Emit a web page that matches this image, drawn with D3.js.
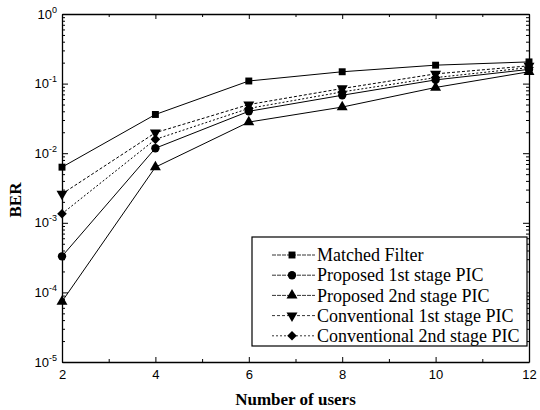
<!DOCTYPE html>
<html>
<head>
<meta charset="utf-8">
<script src="https://cdn.jsdelivr.net/npm/d3@7"></script>
<style>
  body { margin: 0; background: #fff; }
  svg { display: block; }
</style>
</head>
<body>
<div id="chart"></div>
<script>
// data
const users = [2, 4, 6, 8, 10, 12]
const matchedFilter = [6.3e-3, 0.036, 0.109, 0.148, 0.184, 0.205]
const proposed1 = [3.3e-4, 0.0118, 0.040, 0.068, 0.113, 0.16]
const proposed2 = [7.4e-5, 0.0063, 0.028, 0.046, 0.088, 0.148]
const conventional1 = [2.6e-3, 0.0197, 0.050, 0.085, 0.138, 0.18]
const conventional2 = [1.35e-3, 0.0158, 0.044, 0.076, 0.122, 0.17]

const seriesNames = ['Matched Filter', 'Proposed 1st stage PIC', 'Proposed 2nd stage PIC',
  'Conventional 1st stage PIC', 'Conventional 2nd stage PIC']
const xTicks = [2, 4, 6, 8, 10, 12]
const yTicks = [1e-5, 1e-4, 1e-3, 1e-2, 1e-1, 1]

const series = [
  { name: seriesNames[0], values: matchedFilter, marker: 'square', dash: null },
  { name: seriesNames[1], values: proposed1, marker: 'circle', dash: null },
  { name: seriesNames[2], values: proposed2, marker: 'up', dash: null },
  { name: seriesNames[3], values: conventional1, marker: 'down', dash: '3,2' },
  { name: seriesNames[4], values: conventional2, marker: 'diamond', dash: '2,2' }
]

const W = 540
const H = 410
const margin = { top: 14, right: 11, bottom: 48, left: 62 }
const width = W - margin.left - margin.right
const height = H - margin.top - margin.bottom

const serif = '"Liberation Serif", "Times New Roman", serif'
const sans = '"Liberation Sans", Arial, sans-serif'

const svg = d3.select('#chart').append('svg')
  .attr('width', W)
  .attr('height', H)

const g = svg.append('g')
  .attr('transform', `translate(${margin.left},${margin.top})`)

const x = d3.scaleLinear().domain([2, 12]).range([0, width])
const y = d3.scaleLog().domain([1e-5, 1]).range([height, 0])

// minor tick values
let yMinor = []
for (let e = -5; e < 0; e++) {
  for (let k = 2; k <= 9; k++) yMinor.push(k * Math.pow(10, e))
}
const xMinor = [3, 5, 7, 9, 11]

function styleAxis (sel) {
  sel.select('.domain').attr('stroke', '#000').attr('stroke-width', 1.3)
  sel.selectAll('.tick line').attr('stroke', '#000').attr('stroke-width', 1)
}

// y axes (left, right)
g.append('g').call(d3.axisLeft(y).tickValues(yMinor).tickSize(-3).tickFormat(''))
  .call(styleAxis).select('.domain').remove()
g.append('g')
  .call(d3.axisLeft(y).tickValues(yTicks).tickSize(-6).tickSizeOuter(0).tickPadding(6))
  .call(styleAxis)
  .call((a) => {
    a.selectAll('text').each(function (d) {
      let t = d3.select(this)
      let e = Math.round(Math.log10(d))
      t.text('10')
        .attr('font-family', sans)
        .attr('font-size', 13)
        .attr('fill', '#000')
        .attr('x', -5)
      t.append('tspan')
        .attr('dy', -6)
        .attr('font-size', 9)
        .text(e === 0 ? '0' : '-' + Math.abs(e))
    })
  })

g.append('g').attr('transform', `translate(${width},0)`)
  .call(d3.axisRight(y).tickValues(yMinor).tickSize(-3).tickFormat(''))
  .call(styleAxis).select('.domain').remove()
g.append('g').attr('transform', `translate(${width},0)`)
  .call(d3.axisRight(y).tickValues(yTicks).tickSize(-6).tickSizeOuter(0).tickFormat(''))
  .call(styleAxis)

// x axes (bottom, top)
g.append('g').attr('transform', `translate(0,${height})`)
  .call(d3.axisBottom(x).tickValues(xMinor).tickSize(-3).tickFormat(''))
  .call(styleAxis).select('.domain').remove()
g.append('g').attr('transform', `translate(0,${height})`)
  .call(d3.axisBottom(x).tickValues(xTicks).tickSize(-5).tickSizeOuter(0).tickPadding(8))
  .call(styleAxis)
  .call((a) => a.selectAll('text')
    .attr('font-family', sans)
    .attr('font-size', 13)
    .attr('fill', '#000'))

g.append('g')
  .call(d3.axisTop(x).tickValues(xMinor).tickSize(-3).tickFormat(''))
  .call(styleAxis).select('.domain').remove()
g.append('g')
  .call(d3.axisTop(x).tickValues(xTicks).tickSize(-5).tickSizeOuter(0).tickFormat(''))
  .call(styleAxis)

// markers
function markerPath (type) {
  if (type === 'square') return d3.symbol(d3.symbolSquare, 48)()
  if (type === 'circle') return d3.symbol(d3.symbolCircle, 55)()
  if (type === 'diamond') return d3.symbol(d3.symbolSquare, 46)()
  return d3.symbol(d3.symbolTriangle, 52)()
}
function markerRotate (type) {
  if (type === 'down') return 180
  if (type === 'diamond') return 45
  return 0
}

const line = d3.line()
  .x((d, i) => x(users[i]))
  .y((d) => y(d))

const plot = g.append('g').classed('series', true)

series.forEach((s) => {
  plot.append('path')
    .datum(s.values)
    .attr('d', line)
    .attr('fill', 'none')
    .attr('stroke', '#000')
    .attr('stroke-width', 1)
    .attr('stroke-dasharray', s.dash)

  plot.selectAll(null)
    .data(s.values)
    .enter()
    .append('path')
    .attr('d', markerPath(s.marker))
    .attr('transform', (d, i) => `translate(${x(users[i])},${y(d)}) rotate(${markerRotate(s.marker)})`)
    .attr('fill', '#000')
})

// legend
const legX = 252 - margin.left
const legY = 237 - margin.top
const legend = g.append('g').attr('transform', `translate(${legX},${legY})`)
legend.append('rect')
  .attr('width', 275)
  .attr('height', 109)
  .attr('fill', '#fff')
  .attr('stroke', '#000')
  .attr('stroke-width', 1.2)

series.forEach((s, i) => {
  let row = legend.append('g').attr('transform', `translate(0,${18 + i * 20.2})`)
  row.append('line')
    .attr('x1', 20).attr('x2', 63)
    .attr('stroke', '#000')
    .attr('stroke-width', 0.8)
    .attr('stroke-dasharray', s.dash || '4,1')
  row.append('path')
    .attr('d', markerPath(s.marker))
    .attr('transform', `translate(40,0) rotate(${markerRotate(s.marker)})`)
    .attr('fill', '#000')
  row.append('text')
    .attr('x', 65)
    .attr('dy', '0.34em')
    .attr('font-family', serif)
    .attr('font-size', 18)
    .attr('fill', '#000')
    .text(s.name)
})

// axis titles
svg.append('text')
  .attr('x', margin.left + width / 2)
  .attr('y', 405)
  .attr('text-anchor', 'middle')
  .attr('font-family', serif)
  .attr('font-weight', 'bold')
  .attr('font-size', 17)
  .text('Number of users')

svg.append('text')
  .attr('transform', `translate(21,${margin.top + height / 2 + 12}) rotate(-90)`)
  .attr('text-anchor', 'middle')
  .attr('font-family', serif)
  .attr('font-weight', 'bold')
  .attr('font-size', 17)
  .text('BER')
</script>
</body>
</html>
